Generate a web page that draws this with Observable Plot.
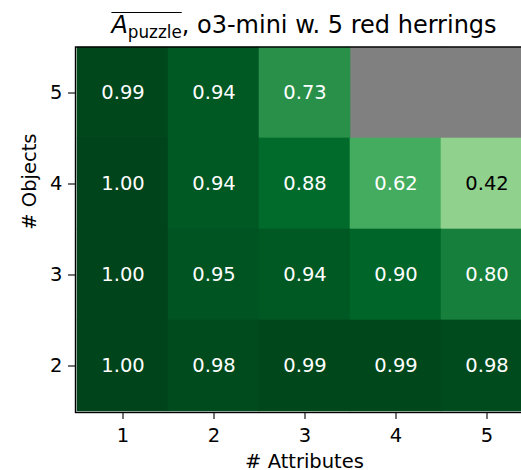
<!DOCTYPE html>
<html>
<head>
<meta charset="utf-8">
<script src="https://cdn.jsdelivr.net/npm/d3@7"></script>
<script src="https://cdn.jsdelivr.net/npm/@observablehq/plot@0.6"></script>
<style>
  html, body { margin: 0; padding: 0; background: white; }
  #chart svg { display: block; }
</style>
</head>
<body>
<div id="chart"></div>
<script>
// Data
const attributes = [1, 2, 3, 4, 5];
const objects = [5, 4, 3, 2];
const scoresObj5 = [0.99, 0.94, 0.73, null, null];
const scoresObj4 = [1.00, 0.94, 0.88, 0.62, 0.42];
const scoresObj3 = [1.00, 0.95, 0.94, 0.90, 0.80];
const scoresObj2 = [1.00, 0.98, 0.99, 0.99, 0.98];
const titleMain = "A";
const titleSub = "puzzle";
const titleRest = ", o3-mini w. 5 red herrings";
const xLabel = "# Attributes";
const yLabel = "# Objects";

const rows = {5: scoresObj5, 4: scoresObj4, 3: scoresObj3, 2: scoresObj2};
const data = [];
for (const o of objects) {
  attributes.forEach((a, i) => data.push({attr: a, obj: o, v: rows[o][i]}));
}
const present = data.filter(d => d.v != null);
const missing = data.filter(d => d.v == null);

// matplotlib "Greens" colormap nodes
const greensNodes = ["#f7fcf5", "#e5f5e0", "#c7e9c0", "#a1d99b", "#74c476", "#41ab5d", "#238b45", "#006d2c", "#00441b"];
const greens = d3.piecewise(d3.interpolateRgb, greensNodes);

const FS = 19.5;
const chart = Plot.plot({
  width: 521,
  height: 470,
  marginLeft: 75,
  marginTop: 46.5,
  marginBottom: 58,
  marginRight: -12,
  style: {fontFamily: "DejaVu Sans", fontSize: FS + "px", color: "black", background: "white", overflow: "hidden"},
  x: {type: "band", domain: attributes, padding: 0, label: null},
  y: {type: "band", domain: objects, padding: 0, label: null},
  color: {type: "linear", domain: [0, 1], interpolate: greens},
  marks: [
    Plot.cell(missing, {x: "attr", y: "obj", fill: "#808080", inset: -0.3}),
    Plot.cell(present, {x: "attr", y: "obj", fill: "v", inset: -0.3}),
    Plot.text(present, {x: "attr", y: "obj", text: d => d.v.toFixed(2), fill: d => d.v < 0.5 ? "black" : "white", fontSize: FS}),
    Plot.frame({stroke: "black", strokeWidth: 1.4}),
    Plot.axisX({tickSize: 7, tickPadding: 8.5, fontSize: FS, label: null, stroke: "black", strokeWidth: 1.1}),
    Plot.axisY({tickSize: 7, tickPadding: 6, fontSize: FS, label: null, stroke: "black", strokeWidth: 1.1}),
    Plot.text([xLabel], {frameAnchor: "bottom", dy: 55, lineAnchor: "bottom", fontSize: FS, fill: "black"}),
    Plot.text([yLabel], {frameAnchor: "left", dx: -40, rotate: -90, lineAnchor: "bottom", fontSize: FS, fill: "black"})
  ]
});
document.getElementById("chart").appendChild(chart);

// Title with overline and subscript
const svg = d3.select(chart);
const TFS = 24;
const t = svg.append("text")
  .attr("x", 304).attr("y", 33)
  .attr("text-anchor", "middle")
  .attr("font-family", "DejaVu Sans")
  .attr("font-size", TFS)
  .attr("fill", "black");
t.append("tspan").attr("font-style", "italic").text(titleMain);
t.append("tspan").attr("font-size", TFS * 0.7).attr("dy", 4.5).text(titleSub);
t.append("tspan").attr("dy", -4.5).text(titleRest);
const node = t.node();
const e0 = node.getExtentOfChar(0);
const e1 = node.getExtentOfChar(titleMain.length + titleSub.length - 1);
svg.append("line")
  .attr("x1", e0.x).attr("x2", e1.x + e1.width)
  .attr("y1", 12.5).attr("y2", 12.5)
  .attr("stroke", "black").attr("stroke-width", 1);
</script>
</body>
</html>
